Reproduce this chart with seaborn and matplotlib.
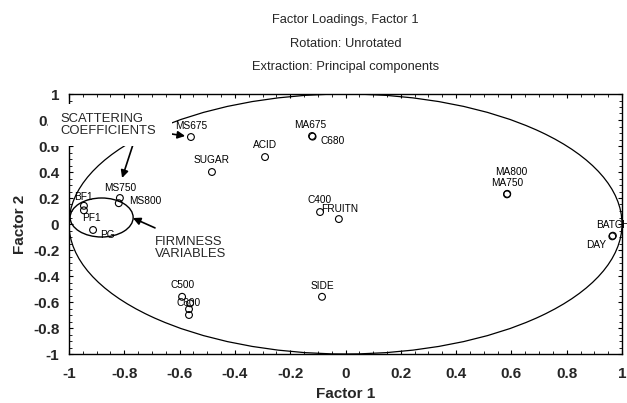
import numpy as np
import pandas as pd
import matplotlib
matplotlib.use("Agg")
import matplotlib.pyplot as plt
import seaborn as sns
from matplotlib.patches import Ellipse, Rectangle
from matplotlib.ticker import MultipleLocator

# ---------------- data ----------------
variables = ["MS675", "SUGAR", "ACID", "MA675", "C680", "C400", "FRUITN",
             "MA800", "MA750", "BATCH", "DAY", "SIDE", "C500", "C550",
             "C650", "C600", "BF1", "PF1", "PG", "MS750", "MS800"]
factor1 = [-0.559, -0.483, -0.291, -0.121, -0.119, -0.092, -0.024,
           0.585, 0.584, 0.967, 0.965, -0.085, -0.591, -0.562,
           -0.566, -0.566, -0.946, -0.946, -0.913, -0.816, -0.820]
factor2 = [0.669, 0.400, 0.515, 0.677, 0.672, 0.092, 0.038,
           0.232, 0.228, -0.090, -0.095, -0.560, -0.560, -0.610,
           -0.655, -0.700, 0.140, 0.105, -0.046, 0.200, 0.160]
x_ticks = [-1, -0.8, -0.6, -0.4, -0.2, 0, 0.2, 0.4, 0.6, 0.8, 1]
y_ticks = [-1, -0.8, -0.6, -0.4, -0.2, 0, 0.2, 0.4, 0.6, 0.8, 1]
tick_labels = ["-1", "-0.8", "-0.6", "-0.4", "-0.2", "0", "0.2", "0.4", "0.6", "0.8", "1"]

# label placement (pixel offsets, alignment) -- layout only
label_style = {
    "MS675": (0, 11, "center"), "SUGAR": (0, 12, "center"), "ACID": (0, 12, "center"),
    "MA675": (-2, 11, "center"), "C680": (8, -4, "left"), "C400": (0, 12, "center"),
    "FRUITN": (1, 10, "center"), "MA800": (4, 22, "center"), "MA750": (0, 11, "center"),
    "BATCH": (0, 11, "center"), "DAY": (-16, -9, "center"), "SIDE": (0, 11, "center"),
    "C500": (0, 12, "center"), "C600": (0, 12, "center"), "BF1": (0, 9, "center"),
    "PF1": (8, -8, "center"), "PG": (14, -5, "center"), "MS750": (0, 10, "center"),
    "MS800": (10, 2, "left"),
}

df = pd.DataFrame({"Factor 1": factor1, "Factor 2": factor2, "var": variables})

sns.set_style("white")
plt.rcParams["font.family"] = ["Liberation Sans", "DejaVu Sans"]

W, H = 627, 403
fig = plt.figure(figsize=(W / 100, H / 100), dpi=100)
L, R, T, B = 69, 622, 94, 354
ax = fig.add_axes([L / W, 1 - B / H, (R - L) / W, (B - T) / H])

sns.scatterplot(data=df, x="Factor 1", y="Factor 2", ax=ax, marker="o", s=24,
                facecolor="none", edgecolor="black", linewidth=0.8, zorder=3)

ax.set_xlim(-1, 1)
ax.set_ylim(-1, 1)
ax.set_xticks(x_ticks)
ax.set_yticks(y_ticks)
ax.set_xticklabels(tick_labels, fontsize=11, fontweight="bold")
ax.set_yticklabels(tick_labels, fontsize=11, fontweight="bold")
ax.xaxis.set_minor_locator(MultipleLocator(0.05))
ax.yaxis.set_minor_locator(MultipleLocator(0.05))
ax.tick_params(which="both", direction="in", top=True, right=True, bottom=True, left=True,
               color="black")
ax.tick_params(which="major", length=3, width=0.8)
ax.tick_params(axis="x", which="major", pad=9)
ax.tick_params(axis="y", which="major", pad=7)
ax.tick_params(which="minor", length=2, width=0.6)
for s in ax.spines.values():
    s.set_color("black")
    s.set_linewidth(1.0)

ax.set_xlabel("Factor 1", fontsize=11, fontweight="bold", labelpad=5)
ax.set_ylabel("Factor 2", fontsize=11, fontweight="bold", labelpad=4)

# point labels
px = 0.72
for name, xv, yv in zip(variables, factor1, factor2):
    if name not in label_style:
        continue
    dx, dy, ha = label_style[name]
    t = ax.annotate(name, (xv, yv), xytext=(dx * px, dy * px), textcoords="offset points",
                    ha=ha, va="center", fontsize=7.3, color="black", zorder=4)
    t.set_clip_on(True)

# big unit circle and small ellipse
ax.add_patch(Ellipse((0, 0), 2.0, 2.0, fill=False, ec="black", lw=0.9, zorder=2))
ax.add_patch(Ellipse((-0.882, 0.05), 0.228, 0.30, fill=False, ec="black", lw=1.0, zorder=2))

# white box behind the annotation text (covers tick labels / spine like the original)
fig.add_artist(Rectangle((48 / W, 1 - 146 / H), (172 - 48) / W, (146 - 104) / H,
                         transform=fig.transFigure, fc="white", ec="none", zorder=5))
fig.text(60 / W, 1 - 125 / H, "SCATTERING\nCOEFFICIENTS", ha="left", va="center",
         fontsize=9.4, linespacing=1.05, zorder=6)
ax.text(-0.689, -0.185, "FIRMNESS\nVARIABLES", ha="left", va="center",
        fontsize=9.4, linespacing=1.05, zorder=6)

arrow = dict(arrowstyle="-|>", color="black", lw=1.2, mutation_scale=11, shrinkA=0, shrinkB=0)
ax.annotate("", xy=(-0.580, 0.677), xytext=(-0.653, 0.70), arrowprops=arrow,
            annotation_clip=False, zorder=7)
ax.annotate("", xy=(-0.808, 0.354), xytext=(-0.769, 0.608), arrowprops=arrow,
            annotation_clip=False, zorder=7)
ax.annotate("", xy=(-0.769, 0.046), xytext=(-0.689, -0.03), arrowprops=arrow,
            annotation_clip=False, zorder=7)

# titles
cx = (L + R) / 2 / W
fig.text(cx, 1 - 20 / H, "Factor Loadings, Factor 1", ha="center", va="center", fontsize=9.3)
fig.text(cx, 1 - 44 / H, "Rotation: Unrotated", ha="center", va="center", fontsize=9.3)
fig.text(cx, 1 - 67 / H, "Extraction: Principal components", ha="center", va="center", fontsize=9.3)

fig.savefig("out.png", dpi=100, facecolor="white")
